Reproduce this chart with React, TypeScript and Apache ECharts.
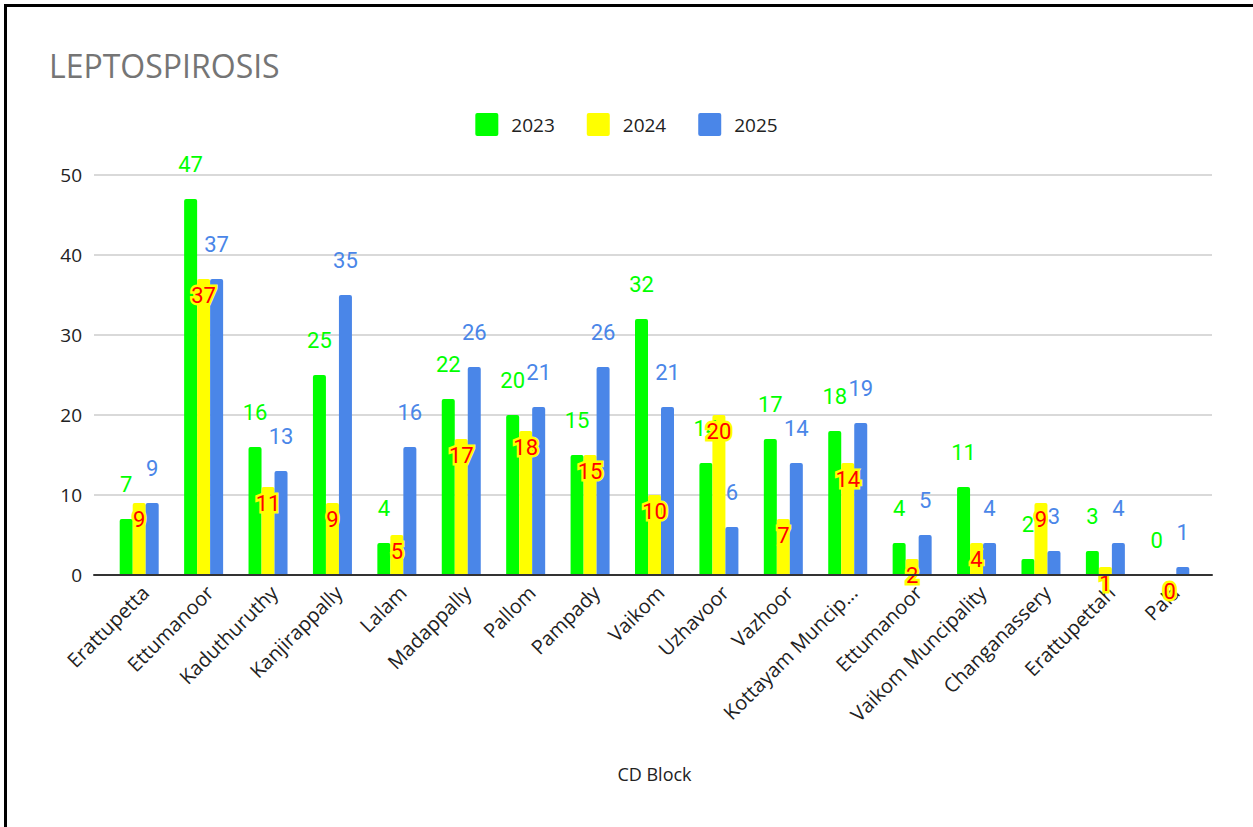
import React, { useEffect, useRef } from "react";
import * as echarts from "echarts";

const categories = [
  "Erattupetta",
  "Ettumanoor",
  "Kaduthuruthy",
  "Kanjirappally",
  "Lalam",
  "Madappally",
  "Pallom",
  "Pampady",
  "Vaikom",
  "Uzhavoor",
  "Vazhoor",
  "Kottayam Muncipality",
  "Ettumanoor",
  "Vaikom Muncipality",
  "Changanassery",
  "Erattupettah",
  "Pala",
];
const values2023 = [7, 47, 16, 25, 4, 22, 20, 15, 32, 14, 17, 18, 4, 11, 2, 3, 0];
const values2024 = [9, 37, 11, 9, 5, 17, 18, 15, 10, 20, 7, 14, 2, 4, 9, 1, 0];
const values2025 = [9, 37, 13, 35, 16, 26, 21, 26, 21, 6, 14, 19, 5, 4, 3, 4, 1];
const seriesNames = ["2023", "2024", "2025"];
const yTicks = { min: 0, max: 50, interval: 10 };

const GREEN = "#00ff00";
const YELLOW = "#ffff00";
const BLUE = "#4a86e8";

export default function App() {
  const ref = useRef<HTMLDivElement>(null);
  useEffect(() => {
    if (!ref.current) return;
    const chart = echarts.init(ref.current, null, { renderer: "svg" });
    const labelFont = "Roboto, 'Noto Sans', sans-serif";
    const axisFont = "'Open Sans', 'Noto Sans', sans-serif";
    const barBase = {
      type: "bar" as const,
      xAxisIndex: 1,
      yAxisIndex: 1,
      barWidth: 13,
      barGap: "0%",
    };
    chart.setOption({
      animation: false,
      backgroundColor: "#ffffff",
      title: {
        text: "LEPTOSPIROSIS",
        left: 44,
        top: 44,
        textStyle: {
          color: "#757575",
          fontSize: 32,
          fontWeight: "normal",
          fontFamily: axisFont,
        },
      },
      legend: {
        data: seriesNames,
        left: "center",
        top: 108,
        itemWidth: 23,
        itemHeight: 23,
        itemGap: 32,
        icon:
          "path://M2,0 H21 A2,2 0 0 1 23,2 V21 A2,2 0 0 1 21,23 H2 A2,2 0 0 1 0,21 V2 A2,2 0 0 1 2,0 Z",
        textStyle: {
          color: "#222222",
          fontSize: 19,
          fontFamily: axisFont,
          padding: [0, 0, 0, 8],
        },
      },
      grid: [
        { left: 94, right: 41, top: 175, bottom: 252, containLabel: false },
        { left: 107, right: 51, top: 175, bottom: 252, containLabel: false },
        { left: 113, right: 45, top: 175, bottom: 252, containLabel: false },
      ],
      xAxis: [
        {
          gridIndex: 0,
          type: "category",
          data: [""],
          axisLabel: { show: false },
          axisTick: { show: false },
          axisLine: { show: true, lineStyle: { color: "#333333", width: 2 } },
          z: 5,
        },
        {
          gridIndex: 1,
          type: "category",
          data: categories,
          axisLine: { show: false },
          axisTick: { show: false },
          axisLabel: { show: false },
          name: "CD Block",
          nameLocation: "middle",
          nameGap: 190,
          nameTextStyle: { color: "#222222", fontSize: 18, fontFamily: axisFont },
        },
        {
          gridIndex: 2,
          type: "category",
          data: categories,
          axisLine: { show: false },
          axisTick: { show: false },
          axisLabel: {
            rotate: 45,
            interval: 0,
            margin: 14,
            color: "#222222",
            fontSize: 20,
            fontFamily: axisFont,
            formatter: (v: string) => (v.length > 18 ? v.slice(0, 15) + "..." : v),
          },
        },
      ],
      yAxis: [
        {
          gridIndex: 0,
          type: "value",
          ...yTicks,
          axisLine: { show: false },
          axisTick: { show: false },
          axisLabel: {
            margin: 12,
            color: "#222222",
            fontSize: 19,
            fontFamily: axisFont,
          },
          splitLine: { show: true, lineStyle: { color: "#cccccc", width: 1.5 } },
        },
        {
          gridIndex: 1,
          type: "value",
          ...yTicks,
          show: false,
          splitLine: { show: false },
        },
        {
          gridIndex: 2,
          type: "value",
          ...yTicks,
          show: false,
          splitLine: { show: false },
        },
      ],
      series: [
        {
          ...barBase,
          name: seriesNames[0],
          data: values2023,
          itemStyle: { color: GREEN, borderRadius: [2, 2, 0, 0] },
          label: {
            show: true,
            position: "top",
            distance: 24,
            color: GREEN,
            fontSize: 22,
            fontFamily: labelFont,
          },
        },
        {
          ...barBase,
          name: seriesNames[1],
          data: values2024,
          itemStyle: { color: YELLOW, borderRadius: [2, 2, 0, 0] },
          label: {
            show: true,
            position: "insideTop",
            distance: 5,
            color: "#ff0000",
            fontSize: 22,
            fontFamily: labelFont,
            textBorderColor: YELLOW,
            textBorderWidth: 5,
          },
        },
        {
          ...barBase,
          name: seriesNames[2],
          data: values2025,
          itemStyle: { color: BLUE, borderRadius: [2, 2, 0, 0] },
          label: {
            show: true,
            position: "top",
            distance: 24,
            color: BLUE,
            fontSize: 22,
            fontFamily: labelFont,
          },
        },
      ],
    });
    return () => chart.dispose();
  }, []);
  return (
    <div style={{ position: "absolute", left: 0, top: 0, width: 1253, height: 827, background: "#fff" }}>
      <div ref={ref} style={{ position: "absolute", left: 0, top: 0, width: 1253, height: 827 }} />
      <div
        style={{
          position: "absolute",
          left: 4,
          top: 4,
          right: 0,
          bottom: 0,
          borderTop: "3px solid #000",
          borderLeft: "3px solid #000",
          pointerEvents: "none",
        }}
      />
    </div>
  );
}
